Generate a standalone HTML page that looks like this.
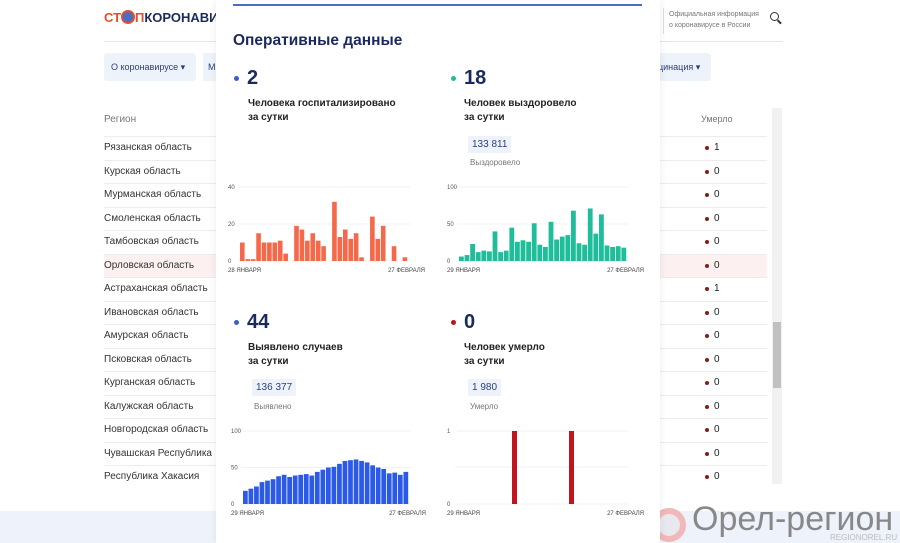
<!DOCTYPE html>
<html><head><meta charset="utf-8">
<style>
*{margin:0;padding:0;box-sizing:border-box}
body{width:900px;height:543px;overflow:hidden;background:#fff;font-family:"Liberation Sans","Noto Sans CJK SC",sans-serif;position:relative}
.a{position:absolute;white-space:nowrap}
.reg{font-size:10px;color:#333;left:104px}
.val{font-size:10px;color:#222;left:714px}
.dot{position:absolute;width:4px;height:4px;border-radius:50%;background:#8a1a1a;left:705px}
.line{position:absolute;left:104px;width:663px;height:1px;background:#ececec}
.modal{position:absolute;left:216px;top:0;width:444px;height:543px;background:#fff;box-shadow:0 0 8px rgba(0,0,0,.08)}
.big{font-size:20px;font-weight:bold;color:#1b2a5e}
.lbl{font-size:10px;font-weight:bold;color:#222;line-height:14px}
.box{font-size:10px;color:#2a3f7e;background:#eef3fb;padding:3px 4px}
.sub{font-size:8px;color:#777}
</style></head><body>
<div class="a" style="left:104px;top:10px;font-size:13px;font-weight:bold;color:#e0502e">СТ<span style="display:inline-block;width:14px;height:14px;border:2px solid #e0502e;border-radius:50%;vertical-align:-2px;background:#4a6cc9"></span>П<span style="color:#1b2a5e">КОРОНАВИ</span></div>
<div class="a" style="left:663px;top:8px;width:1px;height:26px;background:#ddd"></div>
<div class="a" style="left:669px;top:9px;font-size:7px;color:#777;line-height:11px">Официальная информация<br>о коронавирусе в России</div>
<div class="a" style="left:770px;top:12px;width:9px;height:9px;border:1.5px solid #333;border-radius:50%"></div>
<div class="a" style="left:777px;top:21px;width:5px;height:1.5px;background:#333;transform:rotate(45deg)"></div>
<div class="a" style="left:104px;top:41px;width:679px;height:1px;background:#e5e5e5"></div>
<div class="a" style="left:104px;top:53px;width:92px;height:28px;background:#eef3fb;border-radius:3px;font-size:9px;color:#2a3f7e;padding:9px 7px">О коронавирусе ▾</div>
<div class="a" style="left:203px;top:53px;width:20px;height:28px;background:#eef3fb;font-size:9px;color:#2a3f7e;padding:9px 5px">М</div>
<div class="a" style="left:655px;top:53px;width:56px;height:28px;background:#eef3fb;border-radius:3px;font-size:9px;color:#2a3f7e;padding:9px 3px">цинация ▾</div>
<div class="a reg" style="top:114px;color:#777">Регион</div>
<div class="a" style="left:701px;top:114px;font-size:9px;color:#777">Умерло</div>
<div class="a" style="left:104px;top:254px;width:663px;height:23px;background:#fdf0f0"></div>
<div class="a" style="left:772px;top:108px;width:10px;height:376px;background:#f1f1f1"></div>
<div class="a" style="left:773px;top:322px;width:8px;height:66px;background:#c1c1c1"></div>
<div id="tbl"></div>
<div class="a" style="left:0;top:511px;width:900px;height:32px;background:#eef3fb"></div>
<div class="a" style="left:652px;top:508px;width:34px;height:34px;border-radius:50%;border:6px solid #f0b8b8;background:#e8e8ee"></div>
<div class="a" style="left:692px;top:500px;font-size:34px;color:#888">Орел-регион</div>
<div class="a" style="left:830px;top:533px;font-size:8px;color:#bbb">REGIONOREL.RU</div>
<div class="modal">
<div class="a" style="left:17px;top:4px;width:409px;height:2px;background:#4a6cc9"></div>
<div class="a" style="left:17px;top:32px;font-size:15.5px;font-weight:bold;color:#1b2a5e">Оперативные данные</div>
<div class="a" style="left:18px;top:76px;width:5px;height:5px;border-radius:50%;background:#3a5fc8"></div>
<div class="a big" style="left:31px;top:67px">2</div>
<div class="a lbl" style="left:32px;top:97px">Человека госпитализировано<br>за сутки</div>
<div class="a" style="left:235px;top:76px;width:5px;height:5px;border-radius:50%;background:#1fbe9a"></div>
<div class="a big" style="left:248px;top:67px">18</div>
<div class="a lbl" style="left:248px;top:97px">Человек выздоровело<br>за сутки</div>
<div class="a box" style="left:252px;top:136px">133 811</div>
<div class="a sub" style="left:254px;top:158px">Выздоровело</div>
<div class="a" style="left:18px;top:320px;width:5px;height:5px;border-radius:50%;background:#3a5fc8"></div>
<div class="a big" style="left:31px;top:311px">44</div>
<div class="a lbl" style="left:32px;top:341px">Выявлено случаев<br>за сутки</div>
<div class="a box" style="left:36px;top:379px">136 377</div>
<div class="a sub" style="left:38px;top:402px">Выявлено</div>
<div class="a" style="left:235px;top:320px;width:5px;height:5px;border-radius:50%;background:#c0141f"></div>
<div class="a big" style="left:248px;top:311px">0</div>
<div class="a lbl" style="left:248px;top:341px">Человек умерло<br>за сутки</div>
<div class="a box" style="left:252px;top:379px">1 980</div>
<div class="a sub" style="left:254px;top:402px">Умерло</div>
</div>
<svg class="a" style="left:0;top:0" width="900" height="543" id="sv"></svg>
<script>
var names=["Рязанская область","Курская область","Мурманская область","Смоленская область","Тамбовская область","Орловская область","Астраханская область","Ивановская область","Амурская область","Псковская область","Курганская область","Калужская область","Новгородская область","Чувашская Республика","Республика Хакасия"];
var vals=[1,0,0,0,0,0,1,0,0,0,0,0,0,0,0];
var h="";
for(var i=0;i<names.length;i++){var y=142+i*23.5;
h+='<div class="line" style="top:'+(y-6)+'px"></div><div class="a reg" style="top:'+y+'px">'+names[i]+'</div><div class="dot" style="top:'+(y+4)+'px"></div><div class="a val" style="top:'+y+'px">'+vals[i]+'</div>';}
document.getElementById('tbl').innerHTML=h;
var s="";
function chart(x0,x1,base,top,max,data,col,ticks,l1,l2){
 ticks.forEach(function(t){var y=base-(base-top)*t/max;s+='<line x1="'+(x0-2)+'" x2="'+(x1+2)+'" y1="'+y+'" y2="'+y+'" stroke="#eee" stroke-width="0.7"/><text x="'+(x0-12)+'" y="'+(y+2)+'" font-size="6" fill="#555" font-family="Liberation Sans">'+t+'</text>';});
 var w=(x1-x0)/data.length;
 data.forEach(function(v,i){if(v<=0)return;var hh=(base-top)*v/max;s+='<rect x="'+(x0+i*w)+'" y="'+(base-hh)+'" width="'+(w-0.8)+'" height="'+hh+'" fill="'+col+'"/>';});
 s+='<text x="'+(x0-12)+'" y="'+(base+11)+'" font-size="6" fill="#444" font-family="Liberation Sans">'+l1+'</text><text x="'+(x1+17)+'" y="'+(base+11)+'" font-size="6" fill="#444" text-anchor="end" font-family="Liberation Sans">'+l2+'</text>';
}
chart(240,408,261,187,40,[10,1,1,15,10,10,10,11,4,0,19,17,11,15,11,8,0,32,13,17,12,15,2,0,24,12,19,0,8,0,2],"#f4694a",[0,20,40],"28 ЯНВАРЯ","27 ФЕВРАЛЯ");
chart(459,627,261,187,100,[6,8,23,12,14,13,40,12,14,45,26,28,26,51,22,19,53,29,33,35,68,24,22,71,37,63,21,19,20,18],"#1fbe9a",[0,50,100],"29 ЯНВАРЯ","27 ФЕВРАЛЯ");
chart(243,409,504,431,100,[18,21,24,30,32,34,38,40,37,39,40,41,39,44,47,50,51,55,59,60,61,59,57,53,50,48,42,43,40,44],"#2c5ae8",[0,50,100],"29 ЯНВАРЯ","27 ФЕВРАЛЯ");
s+='<line x1="455" x2="628" y1="467" y2="467" stroke="#eee" stroke-width="0.7"/>';
chart(459,627,504,431,1,[],"#c0141f",[0,1],"29 ЯНВАРЯ","27 ФЕВРАЛЯ");
s+='<rect x="512" y="431" width="5" height="73" fill="#c0141f"/><rect x="569" y="431" width="5" height="73" fill="#c0141f"/>';
document.getElementById('sv').innerHTML=s;
</script>
</body></html>
